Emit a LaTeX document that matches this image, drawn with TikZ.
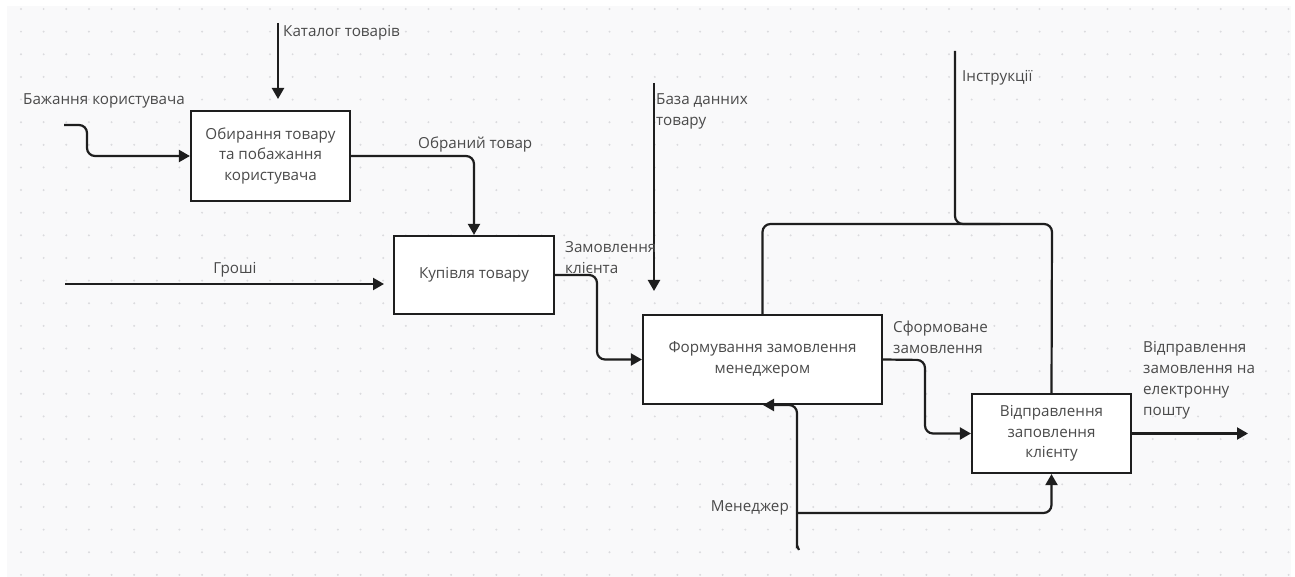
\documentclass[tikz,border=0pt]{standalone}
\usepackage{fontspec}
\setmainfont{Open Sans}
\usetikzlibrary{arrows.meta}
\definecolor{bgc}{HTML}{F9F9FA}
\definecolor{dotc}{HTML}{DBDBDE}
\definecolor{linec}{HTML}{1E1E1E}
\definecolor{txtc}{HTML}{4A4A4A}
\tikzset{
  procbox/.style={draw=linec, line width=2.2pt, fill=white, align=center,
    text=txtc, font=\fontsize{15.2}{20.5}\selectfont, inner sep=0pt},
  flow/.style={draw=linec, line width=2.2pt, rounded corners=8pt},
  flowarr/.style={flow, -{Triangle[length=11pt,width=12pt]}},
  lbl/.style={text=txtc, font=\fontsize{15.2}{21}\selectfont, inner sep=0pt, align=left}
}
\begin{document}
\begin{tikzpicture}[x=1pt,y=-1pt]
\useasboundingbox (0,0) rectangle (1295,577);
\fill[white] (0,0) rectangle (1295,577);
\fill[bgc] (7,6) rectangle (1291,577);
\foreach \i in {0,...,56} {
  \foreach \j in {0,...,25} {
    \fill[dotc] ({21+\i*22.635},{9+\j*22.635}) circle (1.1);
  }
}
% boxes
\node[procbox, minimum width=159pt, minimum height=90pt] (b1) at (270.5,156) {Обирання товару\\та побажання\\користувача};
\node[procbox, minimum width=160pt, minimum height=78pt] (b2) at (474,275) {Купівля товару};
\node[procbox, minimum width=239pt, minimum height=89pt] (b3) at (762.5,359.5) {Формування замовлення\\менеджером};
\node[procbox, minimum width=159pt, minimum height=79pt] (b4) at (1051.5,433.5) {Відправлення\\заповлення\\клієнту};
% free ends
\coordinate (bazIn) at (64,125);
\coordinate (catTop) at (278,23);
\coordinate (catEnd) at (278,99);
\coordinate (grStart) at (65,284);
\coordinate (grEnd) at (384,284);
\coordinate (dbTop) at (654,83);
\coordinate (dbEnd) at (654,291);
\coordinate (insTop) at (955,51);
\coordinate (outEnd) at (1248,433.5);
\coordinate (mgrBot) at (799,550);
\coordinate (mgrTip) at (763,405);
% connectors
\draw[flowarr] (bazIn) -- (87,125) -- (87,156) -- (b1.west);
\draw[flowarr, rounded corners=0pt] (catTop) -- (catEnd);
\draw[flowarr] (b1.east) -| (b2.north);
\draw[flowarr, rounded corners=0pt] (grStart) -- (grEnd);
\draw[flowarr] (b2.east) -- (597,275) |- (b3.west);
\draw[flowarr, rounded corners=0pt] (dbTop) -- (dbEnd);
\draw[flow] (b3.north) |- (1052,224) -- (b4.north);
\draw[flow] (insTop) -- (955,224) -- (1000,224);
\draw[flowarr] (b3.east) -- (925,360) |- (b4.west);
\draw[flowarr] (b4.east) -- (outEnd);
\draw[flowarr] (mgrBot) .. controls (797,546) and (797,544) .. (797,538) -- (797,405) -- (mgrTip);
\draw[flowarr] (797,513) -| (b4.south);
% labels
\node[lbl, anchor=west] (tCat) at (283,33) {Каталог товарів};
\node[lbl, anchor=west] (tBaz) at (23,101) {Бажання користувача};
\node[lbl, anchor=west] (tObr) at (418,145) {Обраний товар};
\node[lbl, anchor=center] (tGr) at (235,270) {Гроші};
\node[lbl, anchor=west] (tZam) at (565,257.5) {Замовлення\\клієнта};
\node[lbl, anchor=west] (tDb) at (656,111) {База данних\\товару};
\node[lbl, anchor=west] (tIns) at (962,78) {Інструкції};
\node[lbl, anchor=west] (tSf) at (893,337) {Сформоване\\замовлення};
\node[lbl, anchor=west] (tVid) at (1143,380.5) {Відправлення\\замовлення на\\електронну\\пошту};
\node[lbl, anchor=east] (tMgr) at (789,508) {Менеджер};
\end{tikzpicture}
\end{document}
